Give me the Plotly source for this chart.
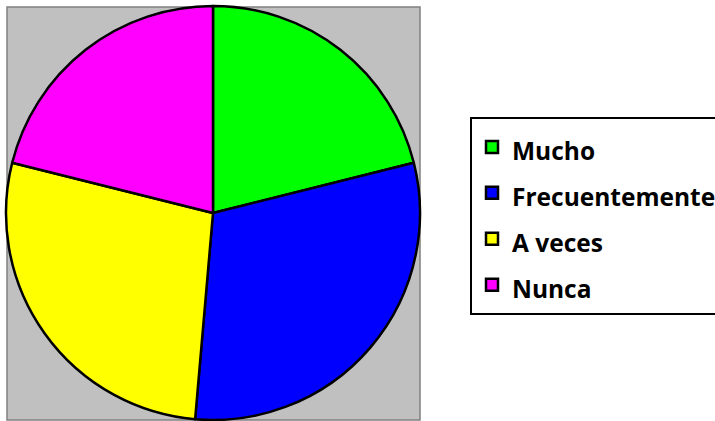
import plotly.graph_objects as go

labels = ["Mucho", "Frecuentemente", "A veces", "Nunca"]
values = [23, 33, 30, 23]
colors = ["#00FF00", "#0000FF", "#FFFF00", "#FF00FF"]

W, H = 715, 421

# legend text at 24.5px, bigger legend font only to widen the row spacing
legend_labels = ["<span style='font-size:24.5px'>%s</span>" % s for s in labels]

fig = go.Figure()

fig.add_trace(go.Pie(
    labels=legend_labels,
    values=values,
    sort=False,
    direction="clockwise",
    rotation=0,
    textinfo="none",
    hoverinfo="label+value+percent",
    marker={'colors': colors, 'line': {'color': "black", 'width': 2.5}},
    domain={'x': [6 / W, 420 / W], 'y': [1 - 420 / H, 1 - 6 / H]},
))

# grey plot area behind the pie
fig.add_shape(type="rect", xref="paper", yref="paper",
              x0=7 / W, x1=420 / W, y0=1 - 420 / H, y1=1 - 7 / H,
              fillcolor="#C0C0C0", line={'color': "#808080", 'width': 1.5},
              layer="below")

fig.update_layout(
    width=W, height=H,
    margin={'t': 0, 'b': 0, 'l': 0, 'r': 0, 'autoexpand': False},
    paper_bgcolor="white",
    plot_bgcolor="white",
    showlegend=True,
    legend={
        'x': 470 / W, 'xanchor': "left",
        'y': 1 - 117 / H, 'yanchor': "top",
        'bordercolor': "black", 'borderwidth': 2,
        'bgcolor': "white",
        'font': {'family': "Open Sans", 'size': 33, 'color': "black", 'weight': "bold"},
    },
)

# drop the page's default body margin so the figure sits at 0,0
fig.write_html("out.html", config={'displayModeBar': False},
               post_script="document.body.style.margin='0';document.body.style.overflow='hidden';")
